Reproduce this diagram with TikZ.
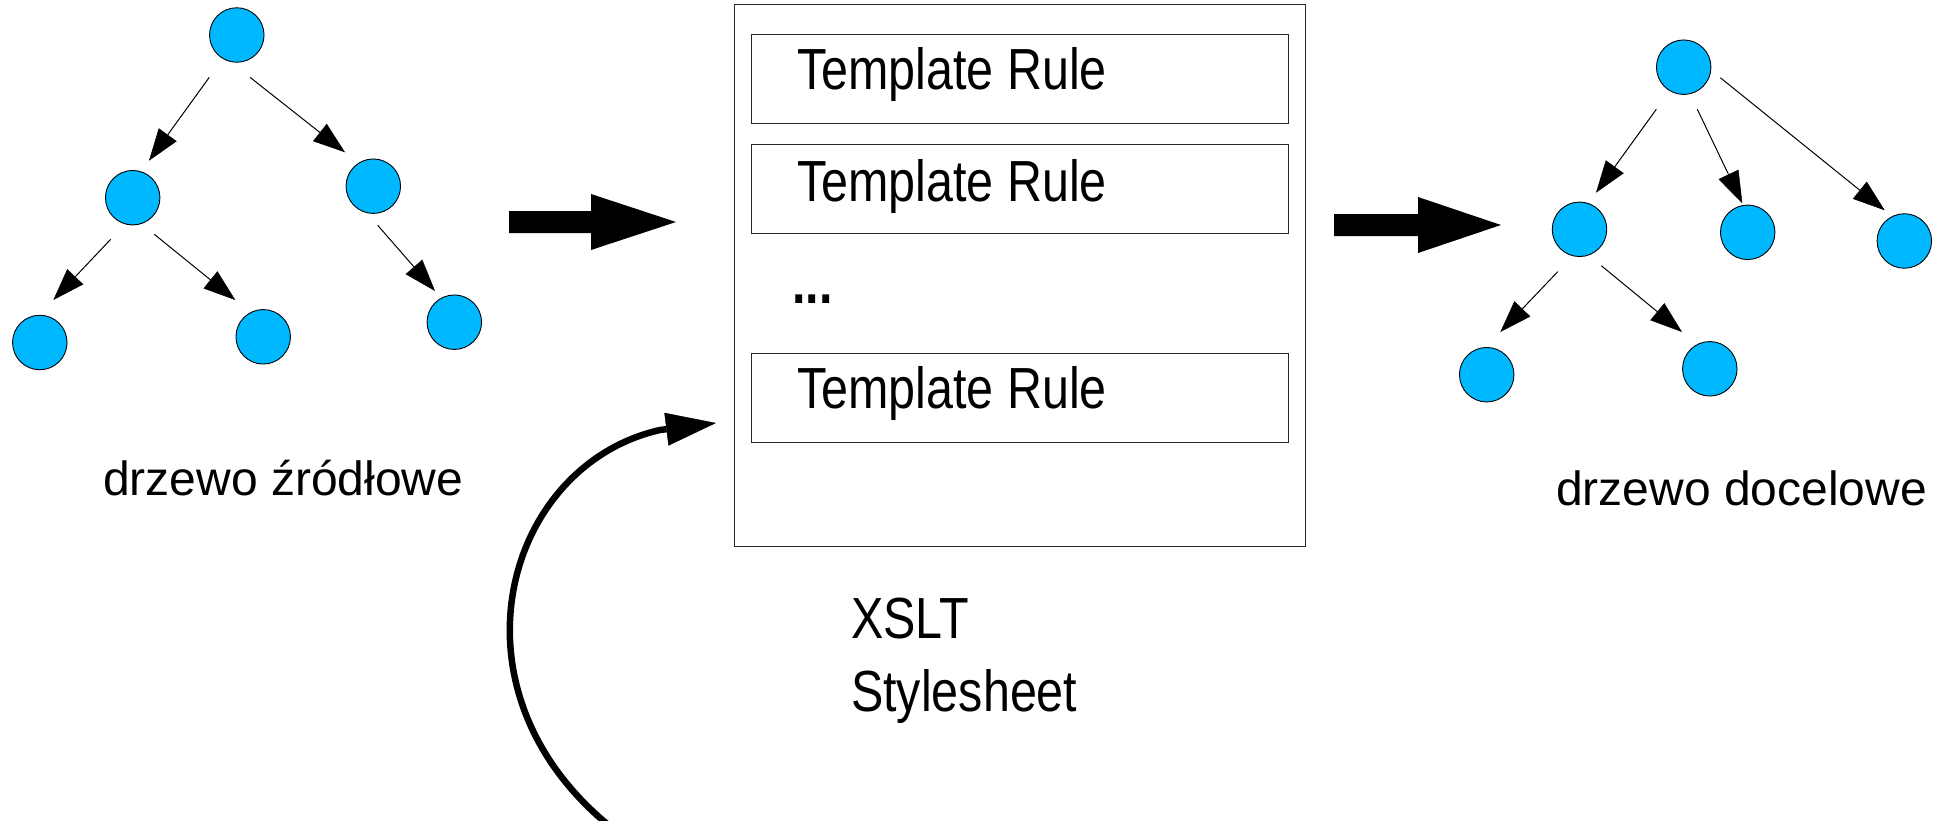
\documentclass[tikz,border=0pt]{standalone}
\usepackage{fontspec}
\setmainfont{Liberation Sans}
\newfontfamily\narrowfont[FakeStretch=0.835]{Liberation Sans}
\usetikzlibrary{arrows.meta,calc}
\definecolor{nodeblue}{RGB}{0,184,255}
\begin{document}
\begin{tikzpicture}[x=1pt,y=-1pt,
  tnode/.style={circle, draw=black, line width=0.9pt, fill=nodeblue, minimum size=54.5pt, inner sep=0pt},
  tarrow/.style={line width=1pt, -{Triangle[length=32pt,width=22pt,line width=0.5pt]}},
  rulebox/.style={draw=black!85, line width=1pt, minimum width=536.3pt, minimum height=89pt, inner sep=0pt},
  ruletext/.style={font=\narrowfont\fontsize{58}{70}\selectfont, anchor=base west, inner sep=0pt},
  labeltext/.style={font=\fontsize{48}{56}\selectfont, anchor=base west, inner sep=0pt},
  loopar/.style={line width=6.5pt, -{Triangle[length=50pt,width=33pt,line width=0.5pt]}}
]
\useasboundingbox (0,0) rectangle (1937,821);

% ---------- source tree ----------
\node[tnode] (lr)  at (236.8,35)    {};
\node[tnode] (lm1) at (132.7,197.7) {};
\node[tnode] (lm2) at (373.3,186.2) {};
\node[tnode] (ll1) at (39.8,342.5)  {};
\node[tnode] (ll2) at (263.2,336.8) {};
\node[tnode] (ll3) at (454.3,322.2) {};

\draw[tarrow] ($(lr)+(-27.5,42.3)$) -- ($(lm1)+(16.3,-37)$);
\draw[tarrow] ($(lr)+(13.2,42.3)$)  -- ($(lm2)+(-28.3,-33.9)$);
\draw[tarrow] ($(lm1)+(-22,41.6)$)  -- ($(ll1)+(13.5,-42.5)$);
\draw[tarrow] ($(lm1)+(21.6,36.6)$) -- ($(ll2)+(-27.9,-36.8)$);
\draw[tarrow] ($(lm2)+(4.4,39.1)$)  -- ($(ll3)+(-19.3,-31.2)$);

\node[labeltext] (srclabel) at (103,495) {drzewo źródłowe};

% ---------- big arrow left ----------
\fill[black] (509,211) -- (591,211) -- (591,194) -- (676,222) -- (591,250) -- (591,233) -- (509,233) -- cycle;

% ---------- stylesheet ----------
\node[draw=black!85, line width=1pt, minimum width=570.7pt, minimum height=542.4pt, inner sep=0pt] (sheet) at (1019.7,275.5) {};
\node[rulebox] (rule1) at (1019.85,78.8)  {};
\node[rulebox] (rule2) at (1019.85,188.8) {};
\node[rulebox] (rule3) at (1019.85,397.8) {};
\node[ruletext] (t1) at (797,90)    {Template Rule};
\node[ruletext] (t2) at (797,201.7) {Template Rule};
\node[ruletext] (t3) at (797,408.3) {Template Rule};
\node[ruletext, font=\narrowfont\bfseries\fontsize{58}{70}\selectfont] (dots) at (792,303.3) {...};

\node[ruletext] (xslt1) at (851,638.3) {XSLT};
\node[ruletext] (xslt2) at (851,711.7) {Stylesheet};

% ---------- loop arrow ----------
\coordinate (loopstart) at (612,828);
\coordinate (loopend) at (716,423);
\draw[loopar] (loopstart) .. controls (440,690) and (505,465) .. (660,430) -- (loopend);

% ---------- big arrow right ----------
\fill[black] (1334,214) -- (1418,214) -- (1418,197) -- (1501,225) -- (1418,253) -- (1418,236) -- (1334,236) -- cycle;

% ---------- target tree ----------
\node[tnode] (rr)  at (1683.7,67.2)  {};
\node[tnode] (rm1) at (1579.5,229.3) {};
\node[tnode] (rm2) at (1747.7,232.3) {};
\node[tnode] (rm3) at (1904.3,241)   {};
\node[tnode] (rl1) at (1486.7,374.7) {};
\node[tnode] (rl2) at (1709.8,368.8) {};

\draw[tarrow] ($(rr)+(-27.4,42.1)$) -- ($(rm1)+(16.5,-36.6)$);
\draw[tarrow] ($(rr)+(13.6,42.1)$)  -- ($(rm2)+(-5.4,-29)$);
\draw[tarrow] ($(rr)+(36.6,10.5)$)  -- ($(rm3)+(-19.6,-30.7)$);
\draw[tarrow] ($(rm1)+(-21.8,42.4)$) -- ($(rl1)+(13.6,-42.7)$);
\draw[tarrow] ($(rm1)+(21.8,36.4)$)  -- ($(rl2)+(-27.8,-36.8)$);

\node[labeltext] (dstlabel) at (1556,505.7) {drzewo docelowe};
\end{tikzpicture}
\end{document}
